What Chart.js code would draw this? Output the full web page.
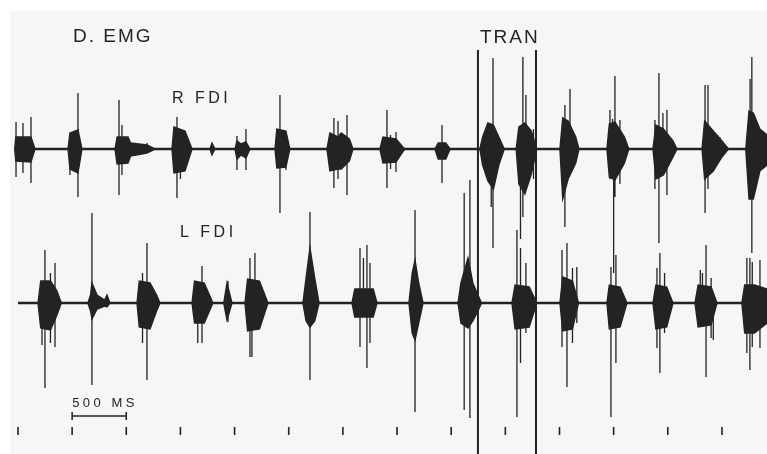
<!DOCTYPE html>
<html>
<head>
<meta charset="utf-8">
<script src="https://cdn.jsdelivr.net/npm/chart.js@4.4.1/dist/chart.umd.min.js"></script>
<style>
  html, body { margin: 0; padding: 0; background: #fff; }
  #wrap { width: 767px; height: 454px; }
</style>
</head>
<body>
<div id="wrap"><canvas id="emg" width="767" height="454"></canvas></div>
<script>
// R FDI envelope (time ms, amplitude above / below baseline)
const rEnvTime = [-30, -20, 120, 157, 462, 480, 554, 591, 896, 915, 1016, 1040, 1191, 1265,
  1422, 1440, 1542, 1607, 1773, 1791, 1819, 2004, 2022, 2060, 2105, 2142,
  2373, 2390, 2474, 2510, 2853, 2880, 2955, 2985, 3060, 3093, 3342, 3370, 3490, 3570,
  3850, 3880, 3950, 3990, 4265, 4290, 4339, 4390, 4440, 4490, 4600, 4625, 4680, 4740, 4790,
  5004, 5030, 5080, 5150, 5180, 5438, 5460, 5512, 5600, 5640, 5863, 5890, 5960, 6048, 6085,
  6316, 6340, 6420, 6500, 6560, 6720, 6750, 6790, 6850, 6916];
const rEnvUp = [0, 12, 12, 0, 0, 16, 19, 0, 0, 12, 12, 6, 4, 0,
  0, 22, 18, 0, 0, 6, 0, 0, 8, 5, 7, 0,
  0, 20, 18, 0, 0, 16, 12, 16, 10, 0, 0, 12, 10, 0,
  0, 6, 6, 0, 0, 12, 26, 24, 12, 0, 0, 22, 26, 18, 0,
  0, 31, 28, 12, 0, 0, 25, 27, 12, 0, 0, 24, 20, 8, 0,
  0, 28, 18, 8, 0, 0, 38, 36, 20, 14];
const rEnvDown = [0, 12, 13, 0, 0, 20, 24, 0, 0, 15, 14, 7, 4, 0,
  0, 24, 22, 0, 0, 6, 0, 0, 10, 6, 9, 0,
  0, 19, 18, 0, 0, 22, 20, 20, 12, 0, 0, 14, 13, 0,
  0, 10, 10, 0, 0, 16, 32, 40, 16, 0, 0, 35, 45, 25, 0,
  0, 50, 30, 14, 0, 0, 28, 31, 14, 0, 0, 30, 26, 8, 0,
  0, 30, 22, 8, 0, 0, 50, 50, 22, 16];

// R FDI single spikes
const rSpikeTime = [-18, 46, 120, 480, 554, 933, 960, 1191, 1468, 1500, 2022, 2105, 2419, 2474,
  2917, 2955, 3038, 3407, 3440, 3490, 3915, 4370, 4386, 4640, 4662, 4690, 4760,
  5050, 5097, 5466, 5490, 5500, 5512, 5558, 5881, 5918, 5955, 5992, 6344, 6371, 6460, 6480, 6760, 6776];
const rSpikeUp = [27, 26, 32, 0, 56, 49, 24, 6, 32, 20, 13, 20, 54, 14,
  31, 28, 34, 39, 14, 17, 24, 0, 91, 0, 92, 54, 20,
  44, 60, 39, 30, 0, 73, 29, 29, 76, 36, 39, 64, 64, 14, 12, 70, 92];
const rSpikeDown = [28, 24, 34, 26, 48, 46, 26, 0, 49, 30, 21, 21, 64, 21,
  39, 30, 46, 39, 20, 23, 34, 58, 99, 90, 68, 0, 30,
  78, 20, 30, 0, 124, 48, 35, 40, 94, 20, 46, 64, 40, 0, 10, 0, 104];

// L FDI envelope
const lEnvTime = [185, 210, 300, 360, 400, 646, 670, 683, 730, 800, 822, 849,
  1099, 1120, 1219, 1280, 1311, 1607, 1630, 1720, 1800, 1900, 1930, 1976,
  2096, 2120, 2230, 2308, 2631, 2660, 2696, 2740, 2780, 3084, 3110, 3280, 3315,
  3610, 3640, 3666, 3700, 3740, 4063, 4090, 4155, 4200, 4247, 4280,
  4561, 4590, 4720, 4790, 5004, 5030, 5120, 5175, 5438, 5460, 5560, 5623,
  5863, 5890, 5990, 6048, 6251, 6280, 6400, 6454, 6684, 6710, 6800, 6916];
const lEnvUp = [0, 22, 22, 12, 0, 0, 8, 20, 8, 3, 8, 0,
  0, 22, 20, 8, 0, 0, 22, 20, 0, 0, 20, 0,
  0, 24, 22, 0, 0, 25, 55, 25, 0, 0, 14, 14, 0,
  0, 30, 43, 20, 0, 0, 20, 45, 20, 8, 0,
  0, 18, 16, 0, 0, 26, 22, 0, 0, 18, 16, 0,
  0, 18, 16, 0, 0, 18, 16, 0, 0, 18, 18, 14];
const lEnvDown = [0, 25, 27, 12, 0, 0, 8, 16, 6, 3, 4, 0,
  0, 24, 26, 8, 0, 0, 20, 20, 0, 0, 17, 0,
  0, 28, 26, 0, 0, 18, 24, 18, 0, 0, 14, 14, 0,
  0, 30, 37, 20, 0, 0, 20, 25, 18, 8, 0,
  0, 26, 24, 0, 0, 28, 26, 0, 0, 26, 24, 0,
  0, 26, 24, 0, 0, 24, 22, 0, 0, 30, 30, 20];

// L FDI single spikes
const lSpikeTime = [222, 249, 300, 342, 683, 1150, 1191, 1660, 1699, 1939, 2142, 2160, 2188,
  2696, 3158, 3190, 3222, 3250, 3666, 4120, 4173, 4607, 4640, 4690,
  5023, 5069, 5120, 5160, 5475, 5521, 5900, 5927, 5970, 6300, 6320, 6353, 6400, 6420,
  6730, 6758, 6780, 6851];
const lSpikeUp = [0, 53, 30, 40, 90, 30, 60, 0, 37, 22, 45, 0, 50,
  91, 55, 45, 58, 40, 93, 110, 123, 73, 55, 40,
  53, 60, 35, 36, 36, 48, 35, 50, 30, 33, 30, 58, 25, 0,
  45, 45, 41, 43];
const lSpikeDown = [42, 85, 40, 44, 82, 40, 77, 40, 40, 19, 54, 54, 0,
  77, 44, 0, 65, 40, 109, 107, 115, 114, 60, 30,
  44, 84, 40, 20, 114, 60, 45, 70, 30, 20, 20, 74, 35, 37,
  50, 67, 44, 45];

// time marker channel (every 500 ms) and transition marks
const markerTimes = [0, 500, 1000, 1500, 2000, 2500, 3000, 3500, 4000, 4500, 5000, 5500, 6000, 6500];
const tranTimes = [4247, 4783];
const scaleBar = [500, 1000];

const INK = '#232323';

function envelope(times, vals, sign) {
  return times.map((t, i) => ({ x: t, y: sign * vals[i] }));
}

function spikes(times, ups, downs) {
  return times.flatMap((t, i) => [{ x: t, y: ups[i] }, { x: t, y: -downs[i] }, { x: t, y: null }]);
}

function fillSet(data, axis) {
  return { data, yAxisID: axis, borderColor: INK, backgroundColor: INK, borderWidth: 1.4,
    fill: 'origin', pointRadius: 0, tension: 0 };
}

function lineSet(data, axis, width) {
  return { data, yAxisID: axis, borderColor: INK, borderWidth: width, fill: false,
    pointRadius: 0, spanGaps: false, tension: 0 };
}

const paper = {
  id: 'paper',
  beforeDraw(chart) {
    const ctx = chart.ctx;
    ctx.save();
    ctx.fillStyle = '#ffffff';
    ctx.fillRect(0, 0, chart.width, chart.height);
    ctx.fillStyle = '#f6f7f4';
    ctx.fillRect(10, 11, chart.width - 10, chart.height - 11);
    ctx.restore();
  }
};

const labels = {
  id: 'labels',
  afterDraw(chart) {
    const ctx = chart.ctx;
    const x = chart.scales.x;
    const yM = chart.scales.yM;
    ctx.save();
    ctx.fillStyle = INK;
    ctx.strokeStyle = INK;
    ctx.textBaseline = 'alphabetic';
    ctx.textAlign = 'left';

    ctx.font = '19px "Liberation Sans", Arial, sans-serif';
    ctx.letterSpacing = '2px';
    ctx.fillText('D. EMG', 73, 42);
    ctx.fillText('TRAN', 480, 43);

    ctx.font = '16px "Liberation Sans", Arial, sans-serif';
    ctx.letterSpacing = '3.5px';
    ctx.fillText('R FDI', 172, 103);
    ctx.fillText('L FDI', 180, 237);

    // 500 ms scale bar
    const x0 = x.getPixelForValue(scaleBar[0]);
    const x1 = x.getPixelForValue(scaleBar[1]);
    const yb = yM.getPixelForValue(15);
    ctx.font = '13px "Liberation Sans", Arial, sans-serif';
    ctx.letterSpacing = '3.5px';
    ctx.fillText('500 MS', x0, yb - 9);
    ctx.lineWidth = 1.5;
    ctx.beginPath();
    ctx.moveTo(x0, yb); ctx.lineTo(x1, yb);
    ctx.moveTo(x0, yb - 4); ctx.lineTo(x0, yb + 4);
    ctx.moveTo(x1, yb - 4); ctx.lineTo(x1, yb + 4);
    ctx.stroke();
    ctx.restore();
  }
};

new Chart(document.getElementById('emg'), {
  type: 'line',
  data: {
    datasets: [
      lineSet([{ x: -28, y: 0 }, { x: 6916, y: 0 }], 'yR', 2.6),
      fillSet(envelope(rEnvTime, rEnvUp, 1), 'yR'),
      fillSet(envelope(rEnvTime, rEnvDown, -1), 'yR'),
      lineSet(spikes(rSpikeTime, rSpikeUp, rSpikeDown), 'yR', 1.3),
      lineSet([{ x: 0, y: 0 }, { x: 6916, y: 0 }], 'yL', 2.6),
      fillSet(envelope(lEnvTime, lEnvUp, 1), 'yL'),
      fillSet(envelope(lEnvTime, lEnvDown, -1), 'yL'),
      lineSet(spikes(lSpikeTime, lSpikeUp, lSpikeDown), 'yL', 1.3),
      lineSet(spikes(markerTimes, markerTimes.map(() => 4), markerTimes.map(() => 4)), 'yM', 1.6),
      lineSet(spikes(tranTimes, tranTimes.map(() => 99), tranTimes.map(() => 305)), 'yR', 2)
    ]
  },
  options: {
    responsive: false,
    animation: false,
    devicePixelRatio: 1,
    events: [],
    layout: { padding: 0 },
    plugins: {
      legend: { display: false },
      tooltip: { enabled: false }
    },
    scales: {
      x: { type: 'linear', min: -166, max: 6916, display: false },
      yR: { type: 'linear', min: -305, max: 149, display: false },
      yL: { type: 'linear', min: -151, max: 303, display: false },
      yM: { type: 'linear', min: -23, max: 431, display: false }
    }
  },
  plugins: [paper, labels]
});
</script>
</body>
</html>
